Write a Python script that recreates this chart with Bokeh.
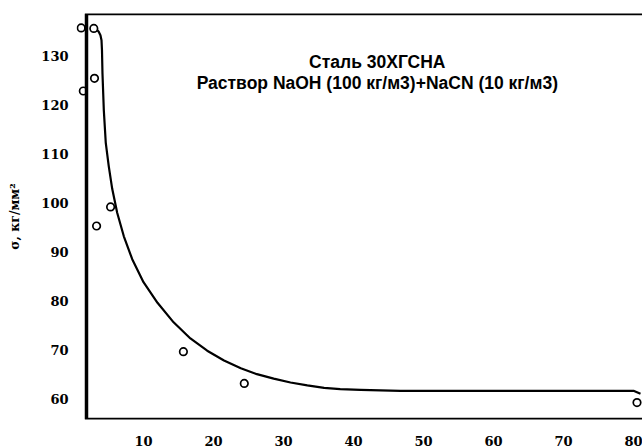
from bokeh.plotting import figure
from bokeh.models import Range1d, FixedTicker, BoxAnnotation, Label
from bokeh.embed import file_html
from bokeh.resources import INLINE

# Measured points: time vs. stress
meas_x = [1.1, 1.4, 2.9, 3.0, 3.3, 5.3, 15.7, 24.4, 80.5]
meas_y = [135.8, 122.9, 135.7, 125.5, 95.3, 99.2, 69.6, 63.1, 59.2]

# Fitted curve through the measurements
curve_x = [2.4, 2.9, 3.3, 3.6, 3.85, 4.0, 4.07, 4.14, 4.33, 4.61, 5.04, 5.53,
           6.24, 7.19, 8.39, 10.0, 12.0, 14.3, 16.7, 19.1, 21.5, 23.9, 26.2,
           28.6, 31.0, 33.4, 35.8, 38.1, 41.0, 46.7, 80.0, 81.0]
curve_y = [136.0, 135.8, 135.5, 135.0, 134.3, 133.3, 131.2, 126.5, 119.0,
           112.3, 107.5, 102.9, 98.0, 93.2, 88.5, 83.8, 79.6, 75.6, 72.3, 69.8,
           67.8, 66.2, 65.0, 64.1, 63.3, 62.7, 62.2, 61.95, 61.8, 61.6, 61.6,
           61.0]

x_ticks = [10, 20, 30, 40, 50, 60, 70, 80]
y_ticks = [60, 70, 80, 90, 100, 110, 120, 130]

title_1 = "Сталь 30ХГСНА"
title_2 = "Раствор NaOH (100 кг/м3)+NaCN (10 кг/м3)"
y_label = "σ, кг/мм²"

p = figure(width=642, height=448, output_backend="svg", toolbar_location=None,
           x_range=Range1d(0.4286, 81.286), y_range=Range1d(55.73, 138.75),
           min_border_left=76, min_border_right=0, min_border_top=13,
           min_border_bottom=27)
p.outline_line_color = None
p.grid.visible = False
p.background_fill_color = "white"
p.border_fill_color = "white"

tick_font = "DejaVu Serif"
for ax in (p.xaxis[0], p.yaxis[0]):
    ax.axis_line_color = None
    ax.major_tick_line_color = None
    ax.minor_tick_line_color = None
    ax.major_label_text_font = tick_font
    ax.major_label_text_font_style = "bold"
    ax.major_label_text_font_size = "13px"
    ax.major_label_text_color = "black"

p.xaxis[0].ticker = FixedTicker(ticks=x_ticks)
p.yaxis[0].ticker = FixedTicker(ticks=y_ticks)
p.xaxis[0].major_label_standoff = 10
p.yaxis[0].major_label_standoff = 2

p.yaxis[0].axis_label = y_label
p.yaxis[0].axis_label_text_font = tick_font
p.yaxis[0].axis_label_text_font_style = "bold"
p.yaxis[0].axis_label_text_font_size = "12.5px"
p.yaxis[0].axis_label_text_color = "black"
p.yaxis[0].axis_label_standoff = 16

# Plot frame: left, top and bottom borders (right edge runs off the canvas)
frame = BoxAnnotation(left=1.857, right=90, bottom=55.73, top=138.75,
                      fill_color=None, line_color="black", line_alpha=1.0,
                      line_width=3.5)
p.add_layout(frame)

p.line(curve_x, curve_y, line_color="black", line_width=2.2,
       line_join="round")
p.scatter(meas_x, meas_y, marker="circle", size=7.5, fill_color="white",
          line_color="black", line_width=1.7)

for txt, yy in ((title_1, 128.9), (title_2, 124.6)):
    p.add_layout(Label(x=43.4, y=yy, text=txt, text_align="center",
                       text_baseline="middle", text_font="Liberation Sans",
                       text_font_style="bold", text_font_size="17.5px",
                       text_color="black"))

open("out.html", "w").write(file_html(p, INLINE))
